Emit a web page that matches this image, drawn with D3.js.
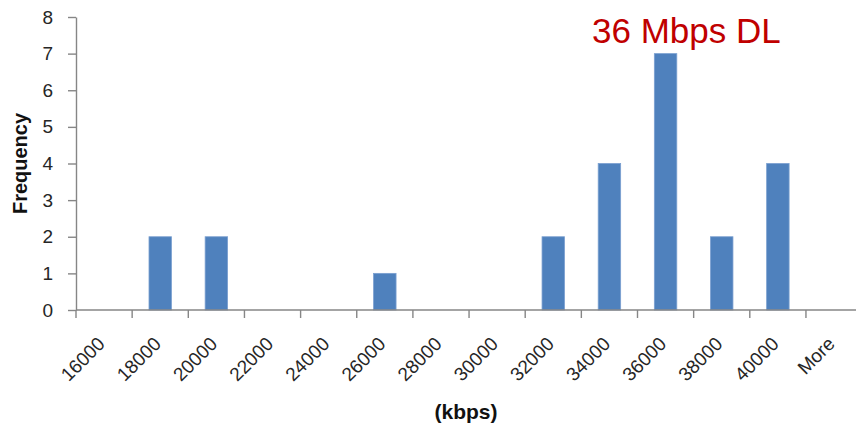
<!DOCTYPE html>
<html>
<head>
<meta charset="utf-8">
<script src="https://cdn.jsdelivr.net/npm/d3@7"></script>
<style>
  html, body { margin: 0; padding: 0; background: #fff; }
  svg { display: block; }
</style>
</head>
<body>
<svg id="chart" width="856" height="424"></svg>
<script>
// Histogram bins (kbps) and their counts
const bins = ["16000", "18000", "20000", "22000", "24000", "26000", "28000",
              "30000", "32000", "34000", "36000", "38000", "40000", "More"];
const frequency = [0, 2, 2, 0, 0, 1, 0, 0, 2, 4, 7, 2, 4, 0];
const yTicks = [0, 1, 2, 3, 4, 5, 6, 7, 8];

const svg = d3.select("#chart");
const plotLeft = 76, plotTop = 17, plotBottom = 310;
const step = 56.15;
const fontFamily = "'Liberation Sans', Arial, sans-serif";

const x = d3.scaleBand()
  .domain(bins)
  .range([plotLeft, plotLeft + step * bins.length])
  .padding(0);

const y = d3.scaleLinear().domain([0, 8]).range([plotBottom, plotTop]);

const axisColor = "#868686";
const labelColor = "#262626";

// Y axis
const yAxis = svg.append("g")
  .attr("transform", `translate(${plotLeft},0)`)
  .call(d3.axisLeft(y).tickValues(yTicks).tickSize(8).tickSizeOuter(0).tickPadding(15));
yAxis.select(".domain").attr("stroke", axisColor).attr("stroke-width", 1.4);
yAxis.selectAll(".tick line").attr("stroke", axisColor).attr("stroke-width", 1.4);
yAxis.selectAll(".tick text")
  .attr("fill", labelColor)
  .style("font-family", fontFamily)
  .style("font-size", "19px");

// Bars
svg.append("g").selectAll("rect")
  .data(bins.map((b, i) => ({ bin: b, value: frequency[i] })))
  .join("rect")
  .attr("x", d => x(d.bin) + x.bandwidth() * 0.3)
  .attr("width", x.bandwidth() * 0.4)
  .attr("y", d => y(d.value))
  .attr("height", d => y(0) - y(d.value))
  .attr("fill", "#4F81BD")
  .attr("stroke", "#7a9fd0")
  .attr("stroke-width", 0.8);

// X axis: line, boundary ticks, rotated category labels
const xg = svg.append("g");
xg.append("line")
  .attr("x1", plotLeft).attr("x2", x.range()[1])
  .attr("y1", plotBottom).attr("y2", plotBottom)
  .attr("stroke", axisColor).attr("stroke-width", 1.4);
xg.selectAll("line.tick")
  .data(bins.map(b => x(b)).concat([x.range()[1]]))
  .join("line")
  .attr("class", "tick")
  .attr("x1", d => d).attr("x2", d => d)
  .attr("y1", plotBottom).attr("y2", plotBottom + 8)
  .attr("stroke", axisColor).attr("stroke-width", 1.4);
xg.selectAll("text")
  .data(bins)
  .join("text")
  .attr("transform", d => `translate(${x(d) + x.bandwidth() / 2 + 2},${plotBottom + 35}) rotate(-45)`)
  .attr("text-anchor", "end")
  .attr("fill", labelColor)
  .style("font-family", fontFamily)
  .style("font-size", "19px")
  .text(d => d);

// Axis titles
svg.append("text")
  .attr("transform", `translate(27,${(plotTop + plotBottom) / 2}) rotate(-90)`)
  .attr("text-anchor", "middle")
  .attr("fill", "#111")
  .style("font-family", fontFamily)
  .style("font-weight", "bold")
  .style("font-size", "20px")
  .text("Frequency");

svg.append("text")
  .attr("x", 466).attr("y", 419)
  .attr("text-anchor", "middle")
  .attr("fill", "#111")
  .style("font-family", fontFamily)
  .style("font-weight", "bold")
  .style("font-size", "21px")
  .text("(kbps)");

// Chart title
svg.append("text")
  .attr("x", 592).attr("y", 43)
  .attr("fill", "#C00000")
  .style("font-family", fontFamily)
  .style("font-size", "35px")
  .text("36 Mbps DL");
</script>
</body>
</html>
